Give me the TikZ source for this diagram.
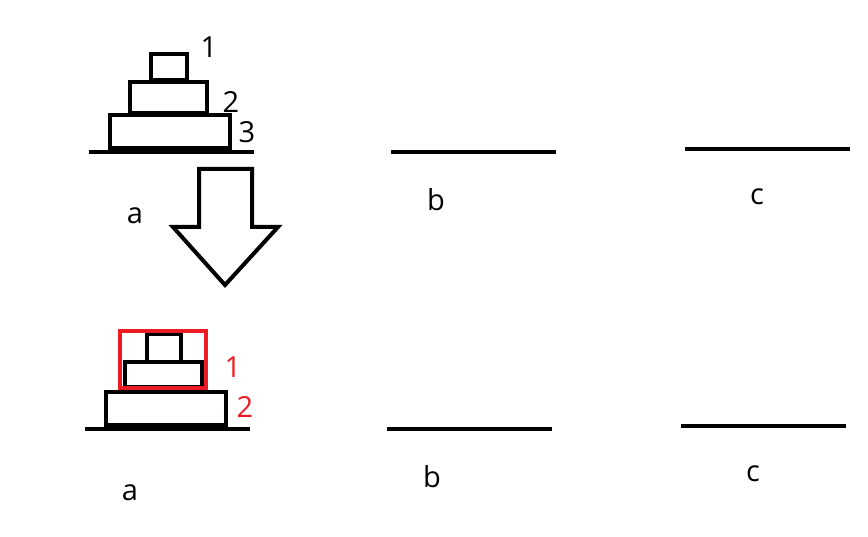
\documentclass[tikz,border=0pt]{standalone}
\usepackage{fontspec}
\setmainfont{Open Sans}
\definecolor{hred}{HTML}{ED1C24}
\begin{document}
\begin{tikzpicture}[x=1pt,y=-1pt,
  disk/.style={draw=black,line width=4pt,fill=white},
  peg/.style={draw=black,line width=4.5pt},
  lbl/.style={font=\fontsize{29}{30}\selectfont,inner sep=0pt},
  rlbl/.style={lbl,text=hred}]
\useasboundingbox (0,0) rectangle (868,537);
% top tower
\draw[peg] (89,152) -- (254,152);
\draw[disk] (110,115) rectangle (230,148);
\draw[disk] (130,82) rectangle (207,113);
\draw[disk] (151,54) rectangle (187,80);
\node[lbl] (n1) at (209,47) {1};
\node[lbl] (n2) at (231,102) {2};
\node[lbl] (n3) at (247,132) {3};
% other pegs top
\draw[peg] (391,152) -- (556,152);
\draw[peg] (685,149) -- (850,149);
\node[lbl] (la1) at (135,216) {a};
\node[lbl] (lb1) at (436,200) {b};
\node[lbl] (lc1) at (757,197) {c};
% big arrow
\draw[line width=4pt,line join=miter,fill=white] (199,169) -- (252,169) -- (252,227) -- (278,227) -- (225,285) -- (173,227) -- (199,227) -- cycle;
% bottom tower
\draw[peg] (85,429) -- (250,429);
\draw[disk] (106,392) rectangle (226,425);
\draw[disk] (125,362) rectangle (202,387);
\draw[disk] (147,334) rectangle (181,362);
\draw[draw=hred,line width=4pt] (120,331) rectangle (206,388);
\node[rlbl] (r1) at (233,367) {1};
\node[rlbl] (r2) at (245,407) {2};
\draw[peg] (387,429) -- (552,429);
\draw[peg] (681,426) -- (846,426);
\node[lbl] (la2) at (130,493) {a};
\node[lbl] (lb2) at (432,477) {b};
\node[lbl] (lc2) at (753,474) {c};
\end{tikzpicture}
\end{document}
